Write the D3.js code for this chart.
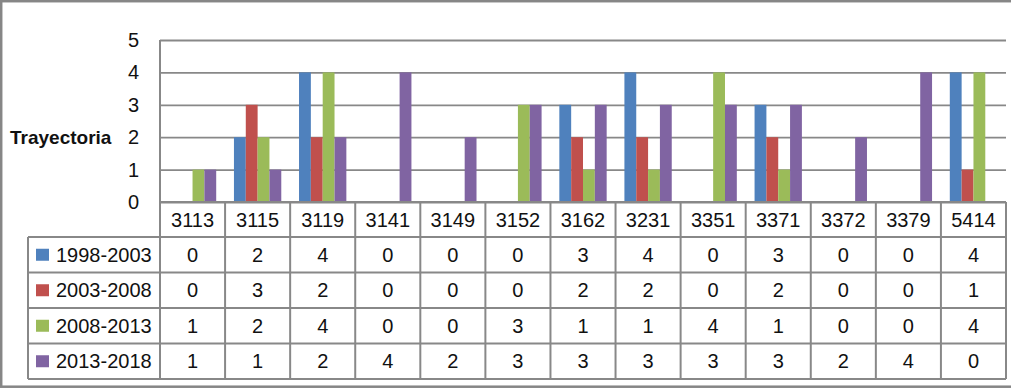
<!DOCTYPE html>
<html>
<head>
  <meta charset="utf-8">
  <script src="https://cdn.jsdelivr.net/npm/d3@7"></script>
  <style>
    body { margin: 0; background: #ffffff; }
    text { font-family: "Liberation Sans", Arial, sans-serif; fill: #111; }
    .grid line { stroke: #888888; stroke-width: 1.8; }
    .grid path { display: none; }
  </style>
</head>
<body>
  <svg id="mainsvg" width="1011" height="389"></svg>
  <script>
    const categories = ["3113", "3115", "3119", "3141", "3149", "3152", "3162", "3231", "3351", "3371", "3372", "3379", "5414"];
    const seriesNames = ["1998-2003", "2003-2008", "2008-2013", "2013-2018"];
    const s1998 = [0, 2, 4, 0, 0, 0, 3, 4, 0, 3, 0, 0, 4];
    const s2003 = [0, 3, 2, 0, 0, 0, 2, 2, 0, 2, 0, 0, 1];
    const s2008 = [1, 2, 4, 0, 0, 3, 1, 1, 4, 1, 0, 0, 4];
    const s2013 = [1, 1, 2, 4, 2, 3, 3, 3, 3, 3, 2, 4, 0];
    const yTicks = [0, 1, 2, 3, 4, 5];
    const colors = ["#4F81BD", "#C0504D", "#9BBB59", "#8064A2"];
    const yTitle = "Trayectoria";

    const seriesValues = [s1998, s2003, s2008, s2013];

    const svg = d3.select('#mainsvg');
    const width = +svg.attr('width');
    const height = +svg.attr('height');
    const plot = { left: 160, right: 1006, top: 40, bottom: 202 };
    const headerH = 35;
    const rowH = 35.5;
    const legendLeft = 28;
    const lineColor = "#888888";

    // outer frame (runs off the right edge, as in the source image)
    svg.append('rect')
      .attr('x', 1.2).attr('y', 1.2)
      .attr('width', width + 10).attr('height', height - 3.5)
      .attr('fill', '#fff')
      .attr('stroke', '#868686')
      .attr('stroke-width', 2.5);

    const xScale = d3.scaleBand()
      .domain(categories)
      .range([plot.left, plot.right]);
    const barW = xScale.bandwidth() / 5.5;
    const xInner = d3.scaleBand()
      .domain(seriesNames)
      .range([barW * 0.75, barW * 4.75]);
    const yScale = d3.scaleLinear()
      .domain([0, 5])
      .range([plot.bottom, plot.top]);

    // gridlines
    const g = svg.append('g');
    g.append('g')
      .attr('class', 'grid')
      .attr('transform', `translate(${plot.left},0)`)
      .call(d3.axisLeft(yScale).tickValues(yTicks).tickSize(-(plot.right - plot.left)).tickFormat(''));

    // y tick labels
    g.selectAll('.ylab')
      .data(yTicks)
      .enter()
      .append('text')
      .attr('class', 'ylab')
      .attr('x', 139)
      .attr('y', d => yScale(d))
      .attr('dy', '0.35em')
      .attr('text-anchor', 'end')
      .style('font-size', '20px')
      .text(d => d);

    g.append('text')
      .attr('x', 10)
      .attr('y', yScale(2))
      .attr('dy', '0.35em')
      .style('font-size', '19px')
      .style('font-weight', 'bold')
      .text(yTitle);

    // bars
    seriesValues.forEach((vals, si) => {
      g.append('g').selectAll('rect')
        .data(vals)
        .enter()
        .append('rect')
        .attr('x', (d, i) => xScale(categories[i]) + xInner(seriesNames[si]))
        .attr('width', xInner.bandwidth())
        .attr('y', d => yScale(d))
        .attr('height', d => yScale(0) - yScale(d))
        .attr('fill', colors[si]);
    });

    // data table
    const t = svg.append('g');
    const rowTop = i => plot.bottom + headerH + i * rowH;
    const tableBottom = rowTop(seriesNames.length);

    // header labels
    t.selectAll('.hdr')
      .data(categories)
      .enter()
      .append('text')
      .attr('x', d => xScale(d) + xScale.bandwidth() / 2)
      .attr('y', plot.bottom + headerH / 2)
      .attr('dy', '0.35em')
      .attr('text-anchor', 'middle')
      .style('font-size', '20px')
      .text(d => d);

    // horizontal table lines
    const hLines = [{ y: plot.bottom, x1: plot.left }].concat(
      d3.range(seriesNames.length + 1).map(i => ({ y: rowTop(i), x1: legendLeft })));
    t.selectAll('.hl')
      .data(hLines)
      .enter()
      .append('line')
      .attr('x1', d => d.x1).attr('x2', plot.right)
      .attr('y1', d => d.y).attr('y2', d => d.y)
      .attr('stroke', lineColor).attr('stroke-width', 2);

    // vertical table lines
    const vx = categories.map(c => xScale(c)).concat([plot.right]);
    t.selectAll('.vl')
      .data(vx)
      .enter()
      .append('line')
      .attr('x1', d => d).attr('x2', d => d)
      .attr('y1', (d, i) => i === 0 ? plot.top : plot.bottom)
      .attr('y2', tableBottom)
      .attr('stroke', lineColor).attr('stroke-width', 2);
    t.append('line')
      .attr('x1', legendLeft).attr('x2', legendLeft)
      .attr('y1', rowTop(0)).attr('y2', tableBottom)
      .attr('stroke', lineColor).attr('stroke-width', 2);

    // rows
    seriesNames.forEach((name, si) => {
      const cy = rowTop(si) + rowH / 2;
      t.append('rect')
        .attr('x', 36).attr('y', cy - 6)
        .attr('width', 13).attr('height', 12)
        .attr('fill', colors[si]);
      t.append('text')
        .attr('x', 56).attr('y', cy)
        .attr('dy', '0.35em')
        .style('font-size', '20px')
        .text(name);
      t.selectAll('.cell' + si)
        .data(seriesValues[si])
        .enter()
        .append('text')
        .attr('x', (d, i) => xScale(categories[i]) + xScale.bandwidth() / 2)
        .attr('y', cy)
        .attr('dy', '0.35em')
        .attr('text-anchor', 'middle')
        .style('font-size', '20px')
        .text(d => d);
    });
  </script>
</body>
</html>
